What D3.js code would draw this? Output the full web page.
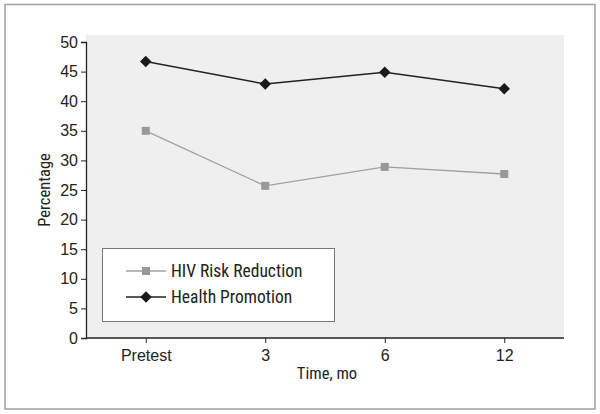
<!DOCTYPE html>
<html><head><meta charset="utf-8">
<script src="https://cdn.jsdelivr.net/npm/d3@7"></script>
<style>body{margin:0;background:#fff}svg{display:block}text{font-family:"Liberation Sans Narrow","Arial Narrow","Roboto Condensed",sans-serif;fill:#222}</style>
</head><body><svg id="c" width="600" height="414"></svg>
<script>
const categories = ["Pretest","3","6","12"];
const hivRisk = [35.0, 25.7, 28.9, 27.7];
const healthPromo = [46.7, 42.9, 44.9, 42.1];
const yTicks = [0,5,10,15,20,25,30,35,40,45,50];
const seriesNames = ["HIV Risk Reduction","Health Promotion"];

const svg = d3.select("#c");
svg.append("rect").attr("x",5).attr("y",4.5).attr("width",590).attr("height",404.5)
  .attr("fill","#fff").attr("stroke","#a0a0a0").attr("stroke-width",1.5);

const L=86,R=564,T=35,B=338;
const x = d3.scalePoint().domain(categories).range([L,R]).padding(0.5);
const y = d3.scaleLinear().domain([0,50]).range([B,42]);

svg.append("rect").attr("x",L).attr("y",T).attr("width",R-L).attr("height",B-T).attr("fill","#efefef");

const ff = '"Liberation Sans Narrow","Arial Narrow",sans-serif';
const yAxis = svg.append("g").attr("transform",`translate(${L},0)`)
  .call(d3.axisLeft(y).tickValues(yTicks).tickSize(5).tickPadding(3));
const xAxis = svg.append("g").attr("transform",`translate(0,${B})`)
  .call(d3.axisBottom(x).tickSize(5).tickPadding(7));
[yAxis,xAxis].forEach(g=>{
  g.select(".domain").attr("stroke","#222").attr("stroke-width",1.3);
  g.selectAll(".tick line").attr("stroke","#222");
  g.selectAll("text").style("font-size","16px").attr("fill","#222").style("font-family",ff);
});
xAxis.select(".domain").attr("d",`M${L},0H${R}`);

svg.append("text").attr("x",327).attr("y",379).attr("text-anchor","middle").style("font-size","16.5px").text("Time, mo");
svg.append("text").attr("transform","translate(50,190) rotate(-90)").attr("text-anchor","middle").style("font-size","16.5px").text("Percentage");

const line = d3.line().x((d,i)=>x(categories[i])).y(d=>y(d));
svg.append("path").datum(hivRisk).attr("d",line).attr("fill","none").attr("stroke","#a0a0a0").attr("stroke-width",1.3);
svg.append("path").datum(healthPromo).attr("d",line).attr("fill","none").attr("stroke","#222").attr("stroke-width",1.5);

const sq = d3.symbol().type(d3.symbolSquare).size(64);
const dm = d3.symbol().type(d3.symbolSquare).size(66);
svg.selectAll(".sq").data(hivRisk).join("path").attr("d",sq)
  .attr("transform",(d,i)=>`translate(${x(categories[i])},${y(d)})`).attr("fill","#999");
svg.selectAll(".dm").data(healthPromo).join("path").attr("d",dm)
  .attr("transform",(d,i)=>`translate(${x(categories[i])},${y(d)}) rotate(45)`).attr("fill","#1a1a1a");

// legend
const lg = svg.append("g");
lg.append("rect").attr("x",102.5).attr("y",248.5).attr("width",232).attr("height",73).attr("fill","#fff").attr("stroke","#777").attr("stroke-width",1);
const items = [{name:seriesNames[0],color:"#a0a0a0",sym:sq,fill:"#999",y:271,rot:0},{name:seriesNames[1],color:"#222",sym:dm,fill:"#1a1a1a",y:297,rot:45}];
items.forEach(it=>{
  lg.append("line").attr("x1",126).attr("x2",166).attr("y1",it.y).attr("y2",it.y).attr("stroke",it.color).attr("stroke-width",1.3);
  lg.append("path").attr("d",it.sym).attr("transform",`translate(146,${it.y}) rotate(${it.rot})`).attr("fill",it.fill);
  lg.append("text").attr("x",171).attr("y",it.y).attr("dy","0.36em").style("font-size","17.5px").text(it.name);
});
</script></body></html>
